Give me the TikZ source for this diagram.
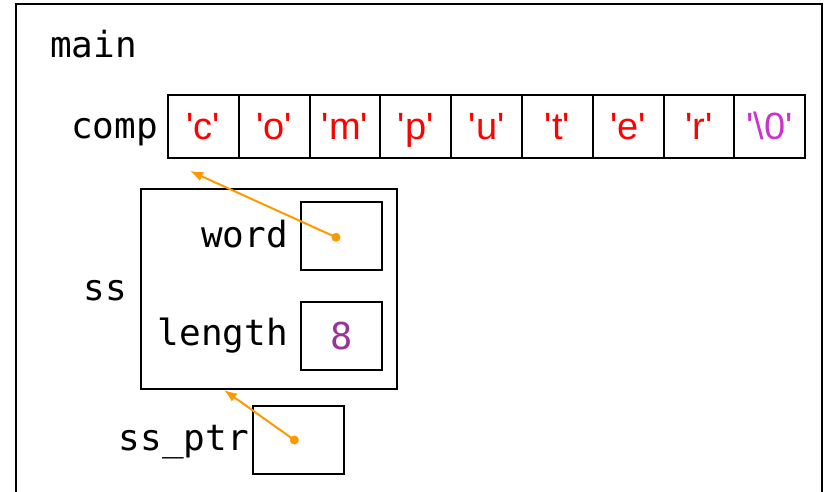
\documentclass[tikz,border=0pt]{standalone}
\usepackage{fontspec}
\newfontfamily\arrfont{Liberation Sans}
\newfontfamily\codefont{DejaVu Sans Mono}
\usetikzlibrary{arrows.meta}
\definecolor{ptrorange}{RGB}{255,153,0}
\definecolor{nulmag}{RGB}{204,51,204}
\definecolor{numpurple}{RGB}{153,51,153}
\tikzset{
  cell/.style={draw, line width=2pt, minimum width=70.8pt, minimum height=63pt, inner sep=0pt,
    text height=25pt, text depth=0pt, text=red, font=\arrfont\fontsize{38}{40}\selectfont},
  lbl/.style={anchor=base east, inner sep=0pt, font=\codefont\fontsize{36}{40}\selectfont},
  frame/.style={draw, line width=2pt, inner sep=0pt},
  ptr/.style={draw=ptrorange, line width=2pt, -{Latex[length=13pt,width=10pt]}},
  ptrdot/.style={circle, fill=ptrorange, inner sep=0pt, minimum size=9pt}
}
\begin{document}
\begin{tikzpicture}[x=1pt,y=-1pt]
\clip (0,0) rectangle (825,491);
\draw[line width=2pt] (16,4) rectangle (822,530);
\node[lbl, anchor=base west] (main) at (50,57) {main};
\node[lbl] (comp) at (158,138) {comp};
\node[cell] (c0) at (203.4,126.5) {'c'};
\node[cell] (c1) at (274.2,126.5) {'o'};
\node[cell] (c2) at (345.0,126.5) {'m'};
\node[cell] (c3) at (415.8,126.5) {'p'};
\node[cell] (c4) at (486.6,126.5) {'u'};
\node[cell] (c5) at (557.4,126.5) {'t'};
\node[cell] (c6) at (628.2,126.5) {'e'};
\node[cell] (c7) at (699.0,126.5) {'r'};
\node[cell, text=nulmag] (c8) at (769.8,126.5) {'\textbackslash0'};
% struct ss
\node[frame, minimum width=256pt, minimum height=200pt] (ss) at (268.7,289.2) {};
\node[lbl] (sslbl) at (127,300) {ss};
\node[frame, minimum width=81pt, minimum height=68pt] (word) at (341.5,236) {};
\node[lbl] (wordlbl) at (288,247.7) {word};
\node[frame, minimum width=81pt, minimum height=68pt, text=numpurple, font=\codefont\fontsize{37}{40}\selectfont] (length) at (341.5,336) {8};
\node[lbl] (lengthlbl) at (288,345.7) {length};
% ss_ptr
\node[frame, minimum width=91pt, minimum height=68pt] (ssptr) at (298.7,439.5) {};
\node[lbl] (ssptrlbl) at (249,450) {ss\_ptr};
% pointers
\node[ptrdot] (wdot) at (336,237.3) {};
\node[ptrdot] (pdot) at (294.3,440) {};
\coordinate (wtip) at (190,171);
\coordinate (ptip) at (224,390);
\draw[ptr] (wdot.center) -- (wtip);
\draw[ptr] (pdot.center) -- (ptip);
\end{tikzpicture}
\end{document}
